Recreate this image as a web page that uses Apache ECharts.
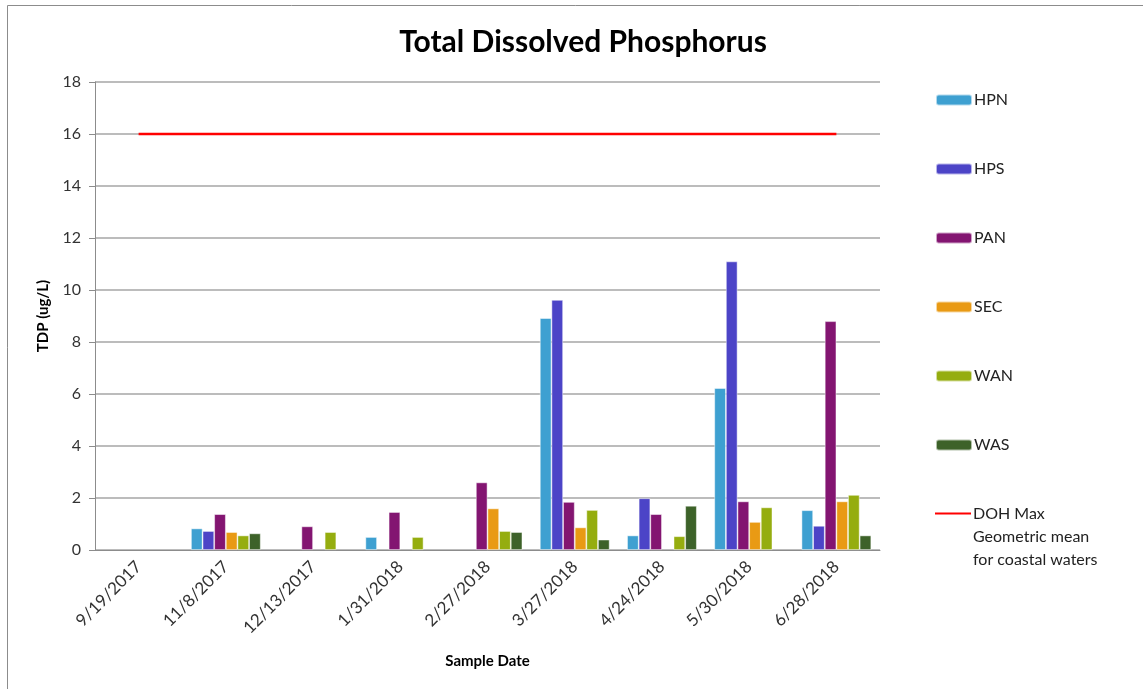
<!DOCTYPE html>
<html>
<head>
<meta charset="utf-8">
<script src="https://cdn.jsdelivr.net/npm/echarts@6/dist/echarts.min.js"></script>
<style>html,body{margin:0;padding:0;background:#fff}#c{width:1143px;height:689px}</style>
</head>
<body>
<div id="c"></div>
<script>
const categories = ['9/19/2017','11/8/2017','12/13/2017','1/31/2018','2/27/2018','3/27/2018','4/24/2018','5/30/2018','6/28/2018'];
const HPN = [null, 0.83, null, 0.50, null, 8.92, 0.56, 6.23, 1.53];
const HPS = [null, 0.73, null, null, null, 9.62, 1.99, 11.10, 0.93];
const PAN = [null, 1.38, 0.91, 1.46, 2.60, 1.85, 1.38, 1.87, 8.80];
const SEC = [null, 0.69, null, null, 1.60, 0.87, null, 1.08, 1.87];
const WAN = [null, 0.56, 0.69, 0.50, 0.73, 1.54, 0.53, 1.64, 2.12];
const WAS = [null, 0.64, null, null, 0.69, 0.40, 1.70, null, 0.56];
const DOH = [16, 16, 16, 16, 16, 16, 16, 16, 16];
const yTicks = [0, 2, 4, 6, 8, 10, 12, 14, 16, 18];

const FONT = 'Lato';
const barSeries = [
  ['HPN', HPN, '#3ea0d1'],
  ['HPS', HPS, '#4c44c7'],
  ['PAN', PAN, '#831571'],
  ['SEC', SEC, '#e99a14'],
  ['WAN', WAN, '#95ad0f'],
  ['WAS', WAS, '#3d6229']
].map(([name, data, color]) => ({
  name, type: 'bar', data, barGap: 0, barCategoryGap: '20%',
  itemStyle: { color, borderColor: 'rgba(255,255,255,0.6)', borderWidth: 0.8 },
  emphasis: { disabled: true }
}));
const lineName = 'DOH Max\nGeometric mean\nfor coastal waters';

const chart = echarts.init(document.getElementById('c'), null, { renderer: 'canvas' });
chart.setOption({
  animation: false,
  backgroundColor: '#fff',
  title: {
    text: 'Total Dissolved Phosphorus', left: 578, top: 22, textAlign: 'center',
    textStyle: { fontFamily: FONT, fontSize: 30, fontWeight: 'bold', color: '#000' }
  },
  graphic: [{
    type: 'rect', shape: { x: 7.5, y: 5.5, width: 1150, height: 700 },
    style: { fill: 'none', stroke: '#8c8c8c', lineWidth: 1 }, silent: true
  }],
  grid: { left: 95, right: 263, top: 82, bottom: 139, containLabel: false },
  legend: [{
    orient: 'vertical', left: 935, top: 92, padding: 0, itemWidth: 36, itemHeight: 11, itemGap: 53,
    data: ['HPN', 'HPS', 'PAN', 'SEC', 'WAN', 'WAS'],
    textStyle: { fontFamily: FONT, fontSize: 16, color: '#222', padding: [0, 0, 0, -3] },
    selectedMode: false
  }, {
    orient: 'vertical', left: 935, top: 456, padding: 0, itemWidth: 36, itemHeight: 20,
    data: [{ name: lineName, icon: 'path://M0,9L36,9L36,11L0,11Z' }],
    formatter: n => '\n\n' + n,
    textStyle: { fontFamily: FONT, fontSize: 16, color: '#222', lineHeight: 23, padding: [0, 0, 0, -3] },
    selectedMode: false
  }],
  xAxis: {
    type: 'category', data: categories, boundaryGap: true,
    name: 'Sample Date', nameLocation: 'middle', nameGap: 104,
    nameTextStyle: { fontFamily: FONT, fontSize: 15, fontWeight: 'bold', color: '#000' },
    axisLine: { lineStyle: { color: '#8c8c8c', width: 1 } },
    axisTick: { show: false },
    axisLabel: { rotate: 45, fontFamily: FONT, fontSize: 17, color: '#333', margin: 14, interval: 0 }
  },
  yAxis: {
    type: 'value', min: 0, max: 18, interval: 2,
    name: 'TDP (ug/L)', nameLocation: 'middle', nameGap: 44,
    nameTextStyle: { fontFamily: FONT, fontSize: 15, fontWeight: 'bold', color: '#000' },
    axisLine: { show: true, lineStyle: { color: '#8c8c8c', width: 1 } },
    axisTick: { show: true, inside: false, length: 6, lineStyle: { color: '#8c8c8c' } },
    axisLabel: {
      fontFamily: FONT, fontSize: 16, color: '#333', margin: 14,
      formatter: v => (yTicks.includes(v) ? String(v) : '')
    },
    splitLine: { lineStyle: { color: '#a6a6a6', width: 1.5 } }
  },
  series: [
    ...barSeries,
    {
      name: lineName, type: 'line', data: DOH, symbol: 'none',
      lineStyle: { color: '#ff0000', width: 2.5 }, itemStyle: { color: '#ff0000' },
      emphasis: { disabled: true }, z: 5
    }
  ]
});
</script>
</body>
</html>
